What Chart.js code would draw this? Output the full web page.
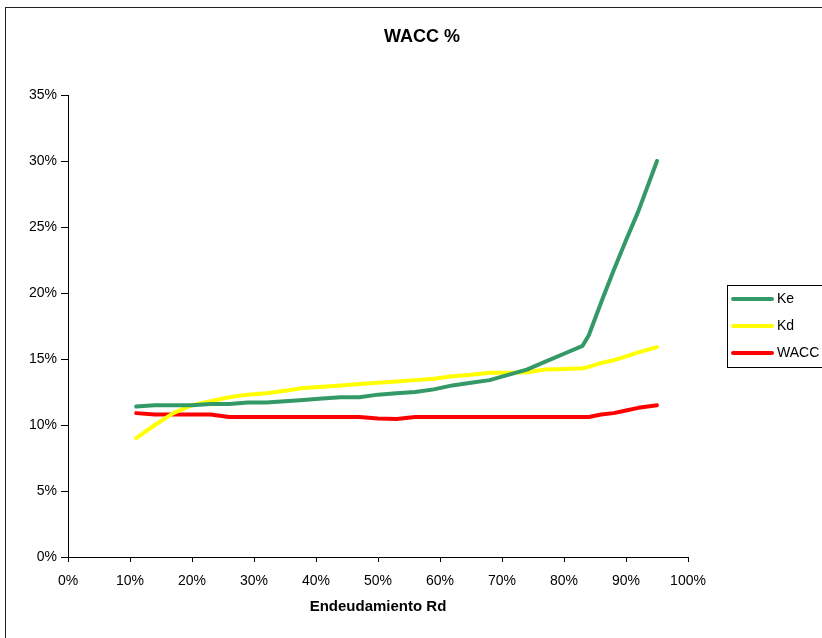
<!DOCTYPE html>
<html>
<head>
<meta charset="utf-8">
<script src="https://cdn.jsdelivr.net/npm/chart.js@4"></script>
<style>
    html, body { margin: 0; padding: 0; background: #fff; overflow: hidden; }
    #wrap { position: relative; width: 822px; height: 638px; }
    #frame { position: absolute; left: 5px; top: 7px; width: 900px; height: 700px; border: 1px solid #222; box-sizing: border-box; }
    #chart { position: absolute; left: 0; top: 0; }
</style>
</head>
<body>
<div id="wrap">
    <div id="frame"></div>
    <canvas id="chart" width="822" height="638"></canvas>
</div>
<script>
// Endeudamiento Rd (%)
const debtRatio = [11, 14, 17, 20, 23, 26, 29, 32, 35, 38, 41, 44, 47, 50, 53, 56, 59, 62, 65, 68, 71, 74, 77, 80, 83, 84, 86, 88, 90, 92, 95];
const keValues = [11.4, 11.5, 11.5, 11.5, 11.6, 11.6, 11.7, 11.7, 11.8, 11.9, 12.0, 12.1, 12.1, 12.3, 12.4, 12.5, 12.7, 13.0, 13.2, 13.4, 13.8, 14.2, 14.8, 15.4, 16.0, 16.8, 19.3, 21.7, 24.0, 26.2, 30.0];
const kdValues = [9.0, 10.0, 10.9, 11.5, 11.8, 12.1, 12.3, 12.4, 12.6, 12.8, 12.9, 13.0, 13.1, 13.2, 13.3, 13.4, 13.5, 13.7, 13.8, 13.95, 13.95, 14.0, 14.2, 14.25, 14.3, 14.4, 14.7, 14.9, 15.2, 15.5, 15.9];
const waccValues = [10.9, 10.8, 10.8, 10.8, 10.8, 10.6, 10.6, 10.6, 10.6, 10.6, 10.6, 10.6, 10.6, 10.5, 10.45, 10.6, 10.6, 10.6, 10.6, 10.6, 10.6, 10.6, 10.6, 10.6, 10.6, 10.6, 10.8, 10.9, 11.1, 11.3, 11.5];

const seriesNames = ['Ke', 'Kd', 'WACC'];
const seriesColors = ['#339966', '#ffff00', '#ff0000'];
const xTicks = [0, 10, 20, 30, 40, 50, 60, 70, 80, 90, 100];
const yTicks = [0, 5, 10, 15, 20, 25, 30, 35];

const chartTitle = 'WACC %';
const xTitle = 'Endeudamiento Rd';

const tickFont = { family: '"Liberation Sans", Arial, sans-serif', size: 14 };

function toPoints(values) {
    return debtRatio.map((x, i) => ({ x: x, y: values[i] }));
}

// title, axis title and boxed legend drawn on the canvas
const decorations = {
    id: 'decorations',
    afterDraw(chart) {
        const ctx = chart.ctx;
        const area = chart.chartArea;
        ctx.save();
        ctx.fillStyle = '#000';
        ctx.textAlign = 'center';
        ctx.textBaseline = 'middle';
        ctx.font = 'bold 18px "Liberation Sans", Arial, sans-serif';
        ctx.fillText(chartTitle, 422, 37);
        ctx.font = 'bold 15px "Liberation Sans", Arial, sans-serif';
        ctx.fillText(xTitle, (area.left + area.right) / 2, 607);

        // legend box
        ctx.fillStyle = '#fff';
        ctx.fillRect(727.5, 285.5, 200, 82);
        ctx.strokeStyle = '#000';
        ctx.lineWidth = 1;
        ctx.strokeRect(727.5, 285.5, 200, 82);
        ctx.font = '14px "Liberation Sans", Arial, sans-serif';
        ctx.textAlign = 'left';
        chart.data.datasets.forEach((ds, i) => {
            const y = 299 + i * 27;
            ctx.strokeStyle = ds.borderColor;
            ctx.lineWidth = 4;
            ctx.lineCap = 'round';
            ctx.beginPath();
            ctx.moveTo(733, y);
            ctx.lineTo(772, y);
            ctx.stroke();
            ctx.fillStyle = '#000';
            ctx.fillText(ds.label, 777, y);
        });
        ctx.restore();
    }
};

new Chart(document.getElementById('chart').getContext('2d'), {
    type: 'line',
    data: {
        datasets: [keValues, kdValues, waccValues].map((vals, i) => ({
            label: seriesNames[i],
            data: toPoints(vals),
            borderColor: seriesColors[i],
            backgroundColor: seriesColors[i],
            borderWidth: 4,
            borderCapStyle: 'round',
            borderJoinStyle: 'round',
            pointRadius: 0,
            tension: 0,
            fill: false
        }))
    },
    options: {
        responsive: false,
        animation: false,
        layout: { padding: { top: 95, right: 134, left: 0, bottom: 0 } },
        plugins: {
            legend: { display: false },
            title: { display: false },
            tooltip: { enabled: false }
        },
        scales: {
            x: {
                type: 'linear',
                min: 0,
                max: 100,
                afterBuildTicks: scale => { scale.ticks = xTicks.map(v => ({ value: v })); },
                afterFit: scale => { scale.height = 81; },
                ticks: { color: '#000', font: tickFont, padding: 11, maxRotation: 0, callback: v => v + '%' },
                grid: { display: true, drawOnChartArea: false, drawTicks: true, tickLength: 5, color: '#000' },
                border: { display: true, color: '#000', width: 1 }
            },
            y: {
                type: 'linear',
                min: 0,
                max: 35,
                afterBuildTicks: scale => { scale.ticks = yTicks.map(v => ({ value: v })); },
                afterFit: scale => { scale.width = 68; },
                ticks: { color: '#000', font: tickFont, padding: 4, callback: v => v + '%' },
                grid: { display: true, drawOnChartArea: false, drawTicks: true, tickLength: 7, color: '#000' },
                border: { display: true, color: '#000', width: 1 }
            }
        }
    },
    plugins: [decorations]
});
</script>
</body>
</html>
